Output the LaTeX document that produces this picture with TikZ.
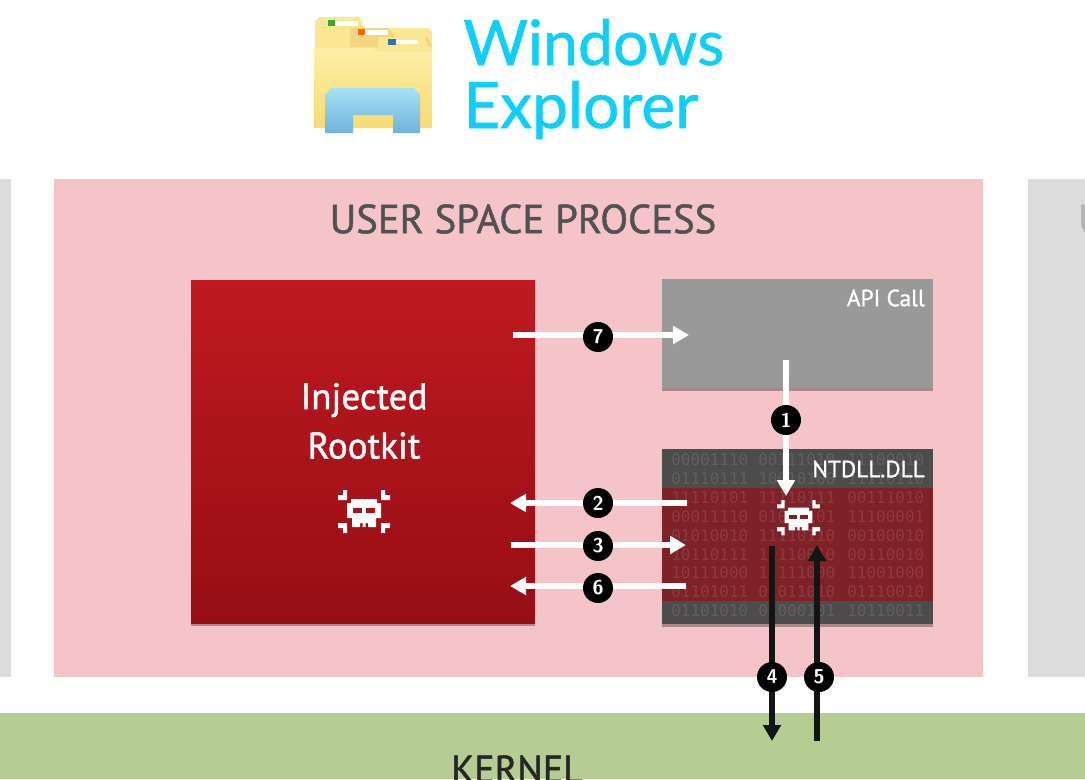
\documentclass[tikz,border=0pt]{standalone}
\usepackage{fontspec}
\setmainfont{PT Sans}
\newfontfamily\labelfont[FakeBold=1.2]{PT Sans}
\newfontfamily\titlefont[FakeBold=0.9]{Lato}
\newfontfamily\bitsfont{DejaVu Sans Mono}
\usetikzlibrary{arrows.meta,shadows}
\definecolor{spacepink}{HTML}{F4C4C9}
\definecolor{spacegrey}{HTML}{DCDCDC}
\definecolor{kernelgreen}{HTML}{B5CD93}
\definecolor{titleblue}{HTML}{0CCFFC}
\definecolor{foldertop}{HTML}{FCEFA6}
\definecolor{folderlow}{HTML}{F8DB72}
\definecolor{foldertab}{HTML}{FBE793}
\definecolor{foldertabdark}{HTML}{F3D67E}
\definecolor{bluetop}{HTML}{A6E2F6}
\definecolor{bluelow}{HTML}{6FB3DB}
\definecolor{roottop}{HTML}{BE1A20}
\definecolor{rootlow}{HTML}{960E14}
\definecolor{ntred}{HTML}{7E2227}
\begin{document}
\begin{tikzpicture}[
        x=0.75pt,
        y=-0.75pt,
        >={Triangle[length=12pt,width=13pt]},
        font=\labelfont\fontsize{17.5}{21}\selectfont
    ]
    \tikzset{
        spacebox/.style = {rectangle, anchor=north west, inner sep=0pt, outer sep=0pt},
        softshadow/.style = {drop shadow={shadow xshift=0pt,shadow yshift=-2pt,fill=black,opacity=0.3}},
        badge/.style = {circle, fill=black, text=white, inner sep=0pt, minimum size=22.5pt, font=\sffamily\fontsize{15}{15}\selectfont\bfseries},
        whiteline/.style = {->, white, line width=4.4pt},
        blackline/.style = {->, black!92, line width=4.4pt},
        bits/.style = {anchor=west, inner sep=0pt, text=white, text opacity=0.11, font=\bitsfont\fontsize{12}{12}\selectfont},
        skull/.pic = {
            \fill[white] (-13,-14) -- (13,-14) -- (13,-10) -- (17,-10) -- (17,5) -- (12,5) -- (12,14) -- (4,14) -- (4,10) -- (1.5,10) -- (1.5,14) -- (-1.5,14) -- (-1.5,10) -- (-4,10) -- (-4,14) -- (-12,14) -- (-12,5) -- (-17,5) -- (-17,-10) -- (-13,-10) -- cycle;
            \fill[#1] (-11,-5) rectangle (-2,0);
            \fill[#1] (2,-5) rectangle (11,0);
            \foreach \sx in {-1,1} {
                \fill[white,xscale=\sx] (26,-18) -- (21,-18) -- (21,-23) -- (17,-23) -- (17,-13) -- (26,-13) -- cycle;
                \fill[white,xscale=\sx] (26,10) -- (17,10) -- (17,20) -- (21,20) -- (21,15) -- (26,15) -- cycle;
            }
        },
    }
    \useasboundingbox (0,0) rectangle (1085,779);
    \clip (0,0) rectangle (1085,779);
    % side processes and kernel
    \node[spacebox,fill=spacegrey,minimum width=10.5*0.75pt,minimum height=498*0.75pt] at (0,179) (LEFT) {};
    \node[spacebox,fill=spacegrey,minimum width=57*0.75pt,minimum height=498*0.75pt] at (1028,179) (RIGHT) {};
    \node[anchor=west,inner sep=0pt,text=black!30,font=\labelfont\fontsize{30}{30}\selectfont] at (1078,219) (RIGHTTXT) {U};
    \node[spacebox,fill=kernelgreen,minimum width=1085*0.75pt,minimum height=66*0.75pt] at (0,713) (KERNEL) {};
    \node[text=black!85,inner sep=0pt,font=\labelfont\fontsize{28.5}{28.5}\selectfont] at (517,769) (KERNELTXT) {KERNEL};
    % main process
    \node[spacebox,fill=spacepink,minimum width=929*0.75pt,minimum height=498*0.75pt] at (54,179) (PROC) {};
    \node[text=black!68,inner sep=0pt,font=\labelfont\fontsize{30.5}{30.5}\selectfont] at (523,219) (PROCTXT) {USER SPACE PROCESS};
    % rootkit
    \node[spacebox,softshadow,top color=roottop,bottom color=rootlow,minimum width=344*0.75pt,minimum height=343*0.75pt] at (191,280) (ROOTKIT) {};
    \node[text=white,inner sep=0pt,align=center,font=\labelfont\fontsize{27.8}{37}\selectfont] at (364,421) (ROOTTXT) {Injected\\Rootkit};
    \pic at (364,513) {skull={rootlow!60!roottop}};
    % api call
    \node[spacebox,softshadow,fill=black!40,minimum width=271*0.75pt,minimum height=109*0.75pt] at (662,279) (API) {};
    \node[anchor=east,text=white,inner sep=0pt] at (925,298) (APITXT) {API Call};
    % ntdll
    \node[spacebox,softshadow,fill=black!70,minimum width=271*0.75pt,minimum height=175*0.75pt] at (662,449) (NTDLL) {};
    \node[spacebox,fill=ntred,minimum width=271*0.75pt,minimum height=113*0.75pt] at (662,488) (NTRED) {};
    \foreach \y/\a/\b/\c in {
        460/00001110/00111010/11100010,
        479/01110111/10010100/11110110,
        498/11110101/11110111/00111010,
        517/00011110/01011101/11100001,
        536/01010010/11110110/00100010,
        555/10110111/11110010/00110010,
        573/10111000/11111000/11001000,
        592/01101011/01011010/01110010,
        611/01101010/01000101/10110011} {
        \node[bits] at (671,\y) {\a};
        \node[bits] at (758,\y) {\b};
        \node[bits] at (847,\y) {\c};
    }
    \node[anchor=east,text=white,inner sep=0pt] at (925,469) (NTTXT) {NTDLL.DLL};
    \pic[scale=0.82] at (798.5,519) {skull={ntred}};
    % connector ends
    \coordinate (S7) at (513,335);
    \coordinate (E7) at (689,335);
    \coordinate (S1) at (786,360);
    \coordinate (E1) at (786,496);
    \coordinate (S2) at (687,503);
    \coordinate (E2) at (510,503);
    \coordinate (S3) at (511,545);
    \coordinate (E3) at (686,545);
    \coordinate (S6) at (686,586);
    \coordinate (E6) at (510,586);
    \coordinate (S4) at (772,546);
    \coordinate (E4) at (772,741);
    \coordinate (S5) at (817,741);
    \coordinate (E5) at (817,545);
    \draw[whiteline] (S7) -- (E7);
    \draw[whiteline] (S1) -- (E1);
    \draw[whiteline] (S2) -- (E2);
    \draw[whiteline] (S3) -- (E3);
    \draw[whiteline] (S6) -- (E6);
    \draw[blackline] (S4) -- (E4);
    \draw[blackline] (S5) -- (E5);
    \node[badge] at (598,337) (B7) {7};
    \node[badge] at (786,420) (B1) {1};
    \node[badge] at (598,503) (B2) {2};
    \node[badge] at (598,546) (B3) {3};
    \node[badge] at (598,588) (B6) {6};
    \node[badge] at (772,677) (B4) {4};
    \node[badge] at (819,677) (B5) {5};
    % folder icon
    \fill[foldertab] (315,50) -- (315,22) -- (319,17) -- (360,17) -- (364,28) -- (428,28) -- (432,32) -- (432,60) -- cycle;
    \fill[foldertabdark] (350,36) -- (350,28) -- (390,28) -- (394,37) -- (428,37) -- (432,47) -- (350,47) -- cycle;
    \fill[foldertab] (378,47) -- (378,37) -- (424,37) -- (428,46) -- (432,52) -- (378,52) -- cycle;
    \fill[white] (335,21) rectangle (358,26);
    \fill[white] (365,30) rectangle (388,35);
    \fill[white] (396,40) rectangle (418,44);
    \fill[green!60!black!80!white] (328,20) rectangle (335,26);
    \fill[orange!80!red] (358,29) rectangle (365,35);
    \fill[cyan!60!blue!80!black] (388,39) rectangle (396,45);
    \path[top color=foldertop,bottom color=folderlow] (314,128) -- (314,48) -- (372,48) -- (380,52) -- (432,52) -- (432,128) -- cycle;
    \path[top color=bluetop,bottom color=bluelow] (325,133) -- (325,95) -- (331,88) -- (414,88) -- (420,95) -- (420,133) -- (393,133) -- (393,115) -- (353,115) -- (353,133) -- cycle;
    % title
    \node[anchor=base west,text=titleblue,inner sep=0pt,font=\titlefont\fontsize{47}{47}\selectfont] at (463,65) (WIN) {Windows};
    \node[anchor=base west,text=titleblue,inner sep=0pt,font=\titlefont\fontsize{48}{48}\selectfont] at (463,128) (EXP) {Explorer};
\end{tikzpicture}
\end{document}
